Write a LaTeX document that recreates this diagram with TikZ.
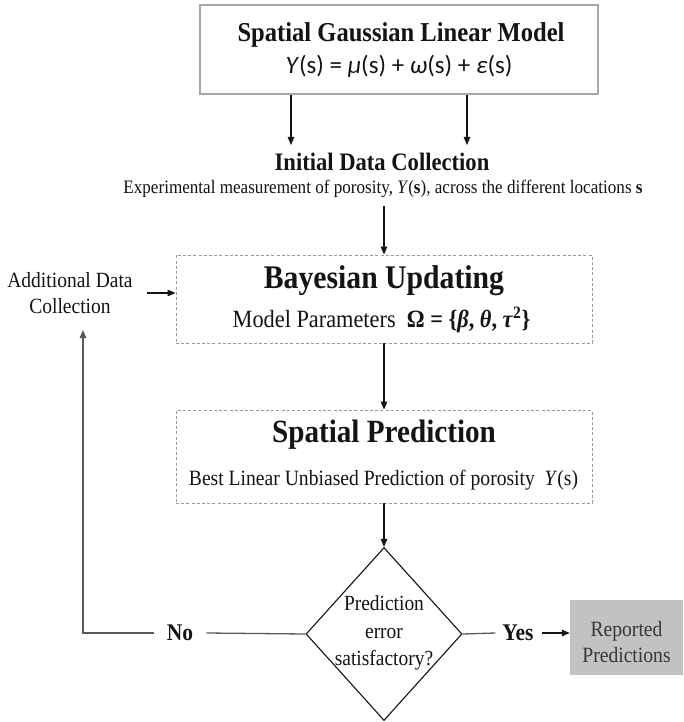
\documentclass[tikz,border=0pt]{standalone}
\usepackage{fontspec}
\setmainfont[FakeStretch=0.9]{Liberation Serif}
\newfontfamily\calib{Carlito}
\usetikzlibrary{shapes.geometric,arrows.meta,calc}

\definecolor{ink}{HTML}{141414}
\definecolor{boxgray}{HTML}{A8A8A8}
\definecolor{dashgray}{HTML}{9A9A9A}
\definecolor{linegray}{HTML}{5A5A5A}
\definecolor{repgray}{HTML}{C2C2C2}

\begin{document}
\begin{tikzpicture}[x=1pt,y=-1pt,
  every node/.style={inner sep=0pt, text=ink},
  arr/.style={-{Triangle[length=8pt,width=6.5pt]}, line width=1.2pt, ink},
  gline/.style={line width=1.3pt, linegray},
  garr/.style={gline, -{Triangle[length=8pt,width=6.5pt]}},
  dbox/.style={draw=dashgray, line width=0.9pt, dash pattern=on 3pt off 2.2pt},
  fsz/.style={font=\fontsize{#1}{#1}\selectfont},
  bsz/.style={font=\bfseries\fontsize{#1}{#1}\selectfont}]

\fill[white] (0,0) rectangle (683,722);
\useasboundingbox (0,0) rectangle (683,722);

% model box
\node[draw=boxgray, line width=1.3pt, minimum width=398, minimum height=89] (model) at (399,49.5) {};
\node[bsz=27.3] (modeltitle) at (401,35) {Spatial Gaussian Linear Model};
\node[font=\calib\fontsize{25}{30}\selectfont] (formula) at (399,66)
  {\textit{Y}(s) = \textit{μ}(s) + \textit{ω}(s) + \textit{ε}(s)};

% data collection
\coordinate (a1) at (291,145);
\coordinate (a2) at (467,145);
\draw[arr] (model.south -| a1) -- (a1);
\draw[arr] (model.south -| a2) -- (a2);
\node[bsz=25.1] (idc) at (382,162) {Initial Data Collection};
\node[fsz=19] (idcsub) at (383,189)
  {Experimental measurement of porosity, \textit{Y}(\textbf{s}), across the different locations \textbf{s}};

% Bayesian updating
\node[dbox, minimum width=416, minimum height=88] (bayes) at (384,299) {};
\node[bsz=33] (bayestitle) at (384,281) {Bayesian Updating};
\node[fsz=24.8] (params) at (381.5,320)
  {Model Parameters~~\textbf{Ω = \{\textit{β}, \textit{θ}, \textit{τ}\textsuperscript{2}\}}};
\coordinate (b0) at (384,206);
\draw[arr] (b0) -- (bayes.north);

% additional data
\node[align=center, font=\fontsize{21.7}{26}\selectfont] (add) at (70,293) {Additional Data\\Collection};
\draw[arr] ([xshift=14pt]add.east) -- (add.east -| bayes.west);

% spatial prediction
\node[dbox, minimum width=416, minimum height=93] (pred) at (384,456.5) {};
\node[bsz=32.4] (predtitle) at (384,435) {Spatial Prediction};
\node[fsz=21.8] (predsub) at (383.5,480) {Best Linear Unbiased Prediction of porosity~~\textit{Y}(s)};
\draw[arr] (bayes.south) -- (pred.north);

% decision
\node[diamond, draw=ink, line width=1.1pt, minimum width=156, minimum height=173] (dec) at (384,634) {};
\node[align=center, font=\fontsize{21.6}{27.5}\selectfont] (dectext) at (384,633)
  {Prediction\\error\\satisfactory?};
\draw[arr] (pred.south) -- (dec.north);

% No branch
\node[bsz=23.9] (no) at (180,633) {No};
\coordinate (fbtop) at (83,330);
\draw[gline] (dec.west) -- ([xshift=13pt]no.east);
\draw[garr] ([xshift=-13pt]no.west) -| (fbtop);

% Yes branch
\node[bsz=23.9] (yes) at (518,633) {Yes};
\node[fill=repgray, minimum width=113, minimum height=75] (rep) at (626.5,637.5) {};
\node[align=center, font=\fontsize{21.8}{26}\selectfont, text=ink!85] (reptext) at (626.5,642)
  {Reported\\Predictions};
\draw[gline] (dec.east) -- ([xshift=-7pt]yes.west);
\draw[arr] ([xshift=8pt]yes.east) -- (yes.east -| rep.west);
\end{tikzpicture}
\end{document}
